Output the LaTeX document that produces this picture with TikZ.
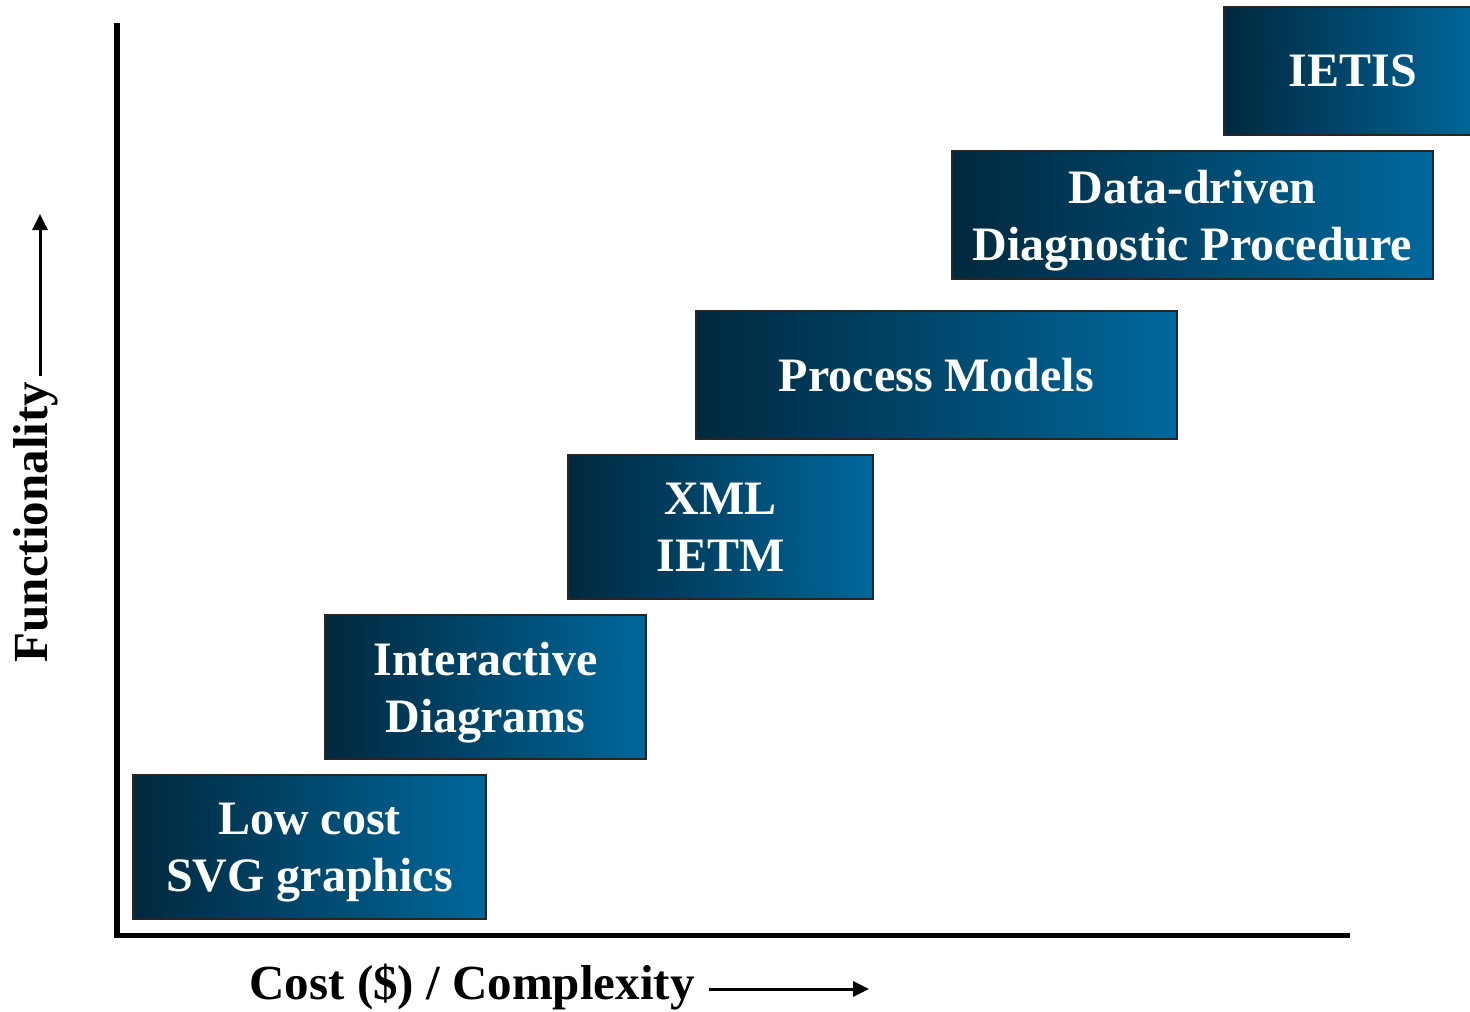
\documentclass[tikz,border=0pt]{standalone}
\usepackage{fontspec}
\setmainfont{Liberation Serif}
\usetikzlibrary{arrows.meta}
\definecolor{stufedunkel}{RGB}{0,40,62}
\definecolor{stufehell}{RGB}{0,104,156}
\tikzset{
  stufe/.style={draw=black!85, line width=0.6pt, left color=stufedunkel, right color=stufehell,
    text=white, align=center, inner sep=0pt, text depth=0pt,
    font=\fontsize{24}{28.5}\selectfont\bfseries},
  achse/.style={line width=2.7pt},
  pfeil/.style={line width=1.5pt, -{Triangle[length=8pt,width=7.5pt]}},
  beschriftung/.style={font=\fontsize{24.5}{28.5}\selectfont\bfseries}
}
\begin{document}
\begin{tikzpicture}[x=0.5pt,y=-0.5pt]
    \useasboundingbox (0,0) rectangle (1470,1011);

    % Achsen
    \coordinate (ursprung) at (117,935.5);
    \coordinate (yende) at (117,23);
    \coordinate (xende) at (1350,935.5);
    \draw[achse] (yende) -- (ursprung) -- (xende);

    % Stufen
    \foreach \name/\x/\y/\w/\h/\txt in {
        low/309.5/847/176.5/72/{Low cost\\SVG graphics},
        inter/485.5/687/160.5/72/{Interactive\\Diagrams},
        xml/720.5/527/152.5/72/{XML\\IETM},
        process/936.5/375/240.5/64/{Process Models},
        diag/1192.5/215/240.5/64/{Data-driven\\Diagnostic Procedure},
        ietis/1353/71/129/64/{IETIS}}
        \node[stufe, minimum width=\w pt, minimum height=\h pt] (\name) at (\x,\y) {\txt};

    % Beschriftungen
    \node[beschriftung, rotate=90] (funktion) at (36,522) {Functionality};
    \coordinate (fstart) at (40,376);
    \coordinate (fende) at (40,214);
    \draw[pfeil] (fstart) -- (fende);

    \node[beschriftung] (kosten) at (472,987) {Cost (\$) / Complexity};
    \coordinate (kstart) at (709,989);
    \coordinate (kende) at (869,989);
    \draw[pfeil] (kstart) -- (kende);

\end{tikzpicture}
\end{document}
